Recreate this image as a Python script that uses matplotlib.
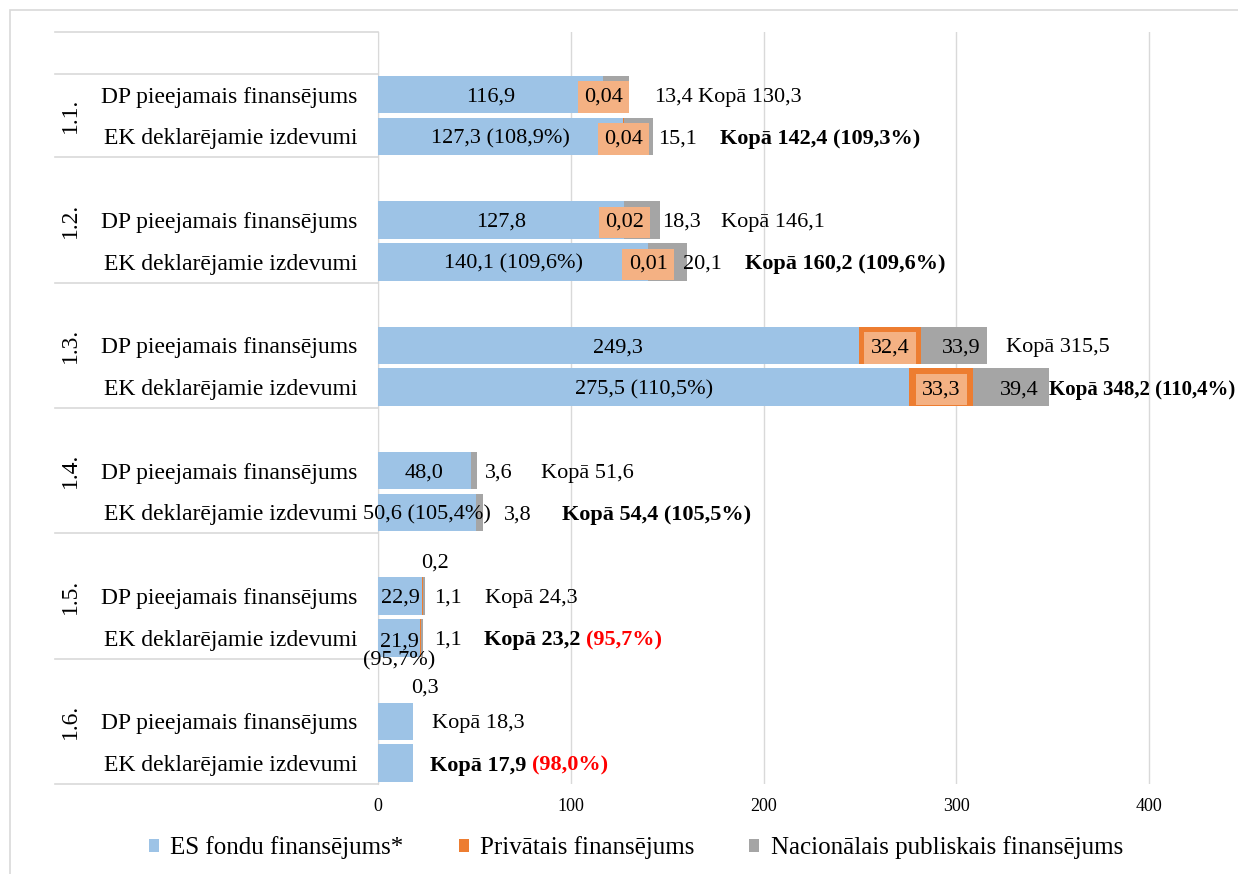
import matplotlib.pyplot as plt
from matplotlib.patches import Rectangle

plt.rcParams['font.family'] = ['Liberation Serif', 'DejaVu Serif']

groups = ["1.1.", "1.2.", "1.3.", "1.4.", "1.5.", "1.6."]
rows = ["DP pieejamais finansējums", "EK deklarējamie izdevumi"]

# milj. EUR, pa rindām: DP, EK katrai grupai
es = [116.9, 127.3, 127.8, 140.1, 249.3, 275.5, 48.0, 50.6, 22.9, 21.9, 18.0, 17.9]
priv = [0.04, 0.04, 0.02, 0.01, 32.4, 33.3, 0, 0, 0.2, 0.2, 0.3, 0]
nat = [13.4, 15.1, 18.3, 20.1, 33.9, 39.4, 3.6, 3.8, 1.1, 1.1, 0, 0]
total = [130.3, 142.4, 146.1, 160.2, 315.5, 348.2, 51.6, 54.4, 24.3, 23.2, 18.3, 17.9]
es_pct = [None, 108.9, None, 109.6, None, 110.5, None, 105.4, None, 95.7, None, None]
tot_pct = [None, 109.3, None, 109.6, None, 110.4, None, 105.5, None, 95.7, None, 98.0]

# etiķešu izvietojums
priv_style = ['box', 'box', 'box', 'box', 'box', 'box', None, None, 'above', None, 'above', None]
nat_gap = [13, 2.6, 1, -2, None, None, 3.6, 11, 4.7, 5.7, None, None]
kopa_gap = [35.8, 34.8, 32, 30, 10.4, 0, 33, 41, 31, 32, 9.5, 9]

c_es = '#9DC3E6'
c_priv = '#ED7D31'
c_nat = '#A5A5A5'
c_box = '#F4B183'
grid_c = '#D9D9D9'
fs = 17      # kategoriju nosaukumi
fv = 16      # vērtību etiķetes
W, H = 1238, 874


def fmt(v):
    s = f"{v:.2f}" if v < 0.1 else f"{v:.1f}"
    return s.replace('.', ',')


def fpct(p):
    return f"({p:.1f}%)".replace('.', ',')


fig = plt.figure(figsize=(W / 100, H / 100), dpi=100)
ax = fig.add_axes([378 / W, 1 - 784 / H, 1 - 378 / W, 752 / H])

y = []
for g in range(len(groups)):
    for r in range(2):
        y.append(3 * g + 1 + r + 0.5)

left_priv = [a for a in es]
left_nat = [a + b for a, b in zip(es, priv)]
ax.barh(y, es, height=0.9, color=c_es, label='ES fondu finansējums*', zorder=3)
ax.barh(y, priv, left=left_priv, height=0.9, color=c_priv, label='Privātais finansējums', zorder=3)
ax.barh(y, nat, left=left_nat, height=0.9, color=c_nat, label='Nacionālais publiskais finansējums', zorder=3)

ax.set_xlim(0, 446)
ax.set_ylim(18, 0)
ax.set_xticks([0, 100, 200, 300, 400])
ax.tick_params(axis='x', length=0, pad=10, labelsize=13)
ax.set_yticks(y)
ax.set_yticklabels(rows * len(groups), fontsize=fs)
ax.tick_params(axis='y', length=0, pad=15)
ax.grid(axis='x', color=grid_c, lw=1, zorder=0)
for s in ['top', 'right', 'bottom']:
    ax.spines[s].set_visible(False)
ax.spines['left'].set_color(grid_c)

# grupu atdalītāji un nosaukumi
yt = ax.get_yaxis_transform()
x0 = (55 - 378) / 860
for b in [0, 1, 3, 6, 9, 12, 15, 18]:
    ax.plot([x0, 0], [b, b], color=grid_c, lw=1.2, transform=yt, clip_on=False)
for g, name in enumerate(groups):
    lo = 1 if g == 0 else 3 * g
    ax.text((70 - 378) / 860, (lo + 3 * g + 3) / 2, name, transform=yt, rotation=90,
            ha='center', va='center', fontsize=fs)

va = 'center_baseline'
kopa_texts = []
for i in range(len(y)):
    yi = y[i]
    # ES fondu daļa
    if es_pct[i] is not None:
        if es_pct[i] < 100:
            ax.text(es[i] / 2, yi + 0.33, fmt(es[i]) + "\n" + fpct(es_pct[i]),
                    ha='center', va='center', fontsize=fv, linespacing=0.95, zorder=5)
        else:
            ax.text(es[i] / 2, yi, fmt(es[i]) + " " + fpct(es_pct[i]),
                    ha='center', va=va, fontsize=fv, zorder=5)
    elif i < 10:
        ax.text(es[i] / 2, yi, fmt(es[i]), ha='center', va=va, fontsize=fv, zorder=5)

    # privātā daļa
    if priv_style[i] == 'box':
        ax.text(es[i] + priv[i] / 2, yi, fmt(priv[i]), ha='center', va=va, fontsize=fv,
                zorder=6, bbox=dict(boxstyle='square,pad=0.28', fc=c_box, ec='none'))
    elif priv_style[i] == 'above':
        ax.text(es[i] + 6.5, yi - 0.85, fmt(priv[i]), ha='center', va=va, fontsize=fv, zorder=5)

    # nacionālā daļa
    if nat[i] > 0:
        if nat_gap[i] is None:
            ax.text(left_nat[i] + nat[i] / 2 + 4, yi, fmt(nat[i]), ha='center', va=va,
                    fontsize=fv, zorder=5)
        else:
            ax.text(left_nat[i] + nat[i] + nat_gap[i], yi, fmt(nat[i]), ha='left', va=va,
                    fontsize=fv, zorder=5)

    # kopsumma
    bold = 'bold' if i % 2 == 1 else 'normal'
    txt = f"Kopā {fmt(total[i])}"
    p = tot_pct[i]
    if p is not None and p >= 100:
        txt += " " + fpct(p)
    t = ax.text(total[i] + kopa_gap[i], yi, txt, ha='left', va=va, fontsize=fv,
                fontweight=bold, zorder=5)
    kopa_texts.append(t)
    if p is not None and p < 100:
        ax.annotate(fpct(p), xy=(1, 0.5), xycoords=t, xytext=(4, 0), textcoords='offset points',
                    ha='left', va='center', fontsize=fv, fontweight='bold', color='#FF0000')

# garākā kopsumma nedrīkst iziet ārpus attēla
r = fig.canvas.get_renderer()
for t in kopa_texts:
    size = fv
    while t.get_window_extent(r).x1 > W - 1 and size > 10:
        size -= 0.5
        t.set_fontsize(size)

fig.legend(loc='center', bbox_to_anchor=(636 / W, 1 - 848 / H), ncol=3, frameon=False,
           fontsize=18, handlelength=0.4, handleheight=0.4, handletextpad=0.45,
           columnspacing=2.2)

fig.patches.append(Rectangle((10 / W, -0.1), 1.2, 1 - 10 / H + 0.1, transform=fig.transFigure,
                             fill=False, ec=grid_c, lw=1.2))

fig.savefig('out.png', dpi=100)
